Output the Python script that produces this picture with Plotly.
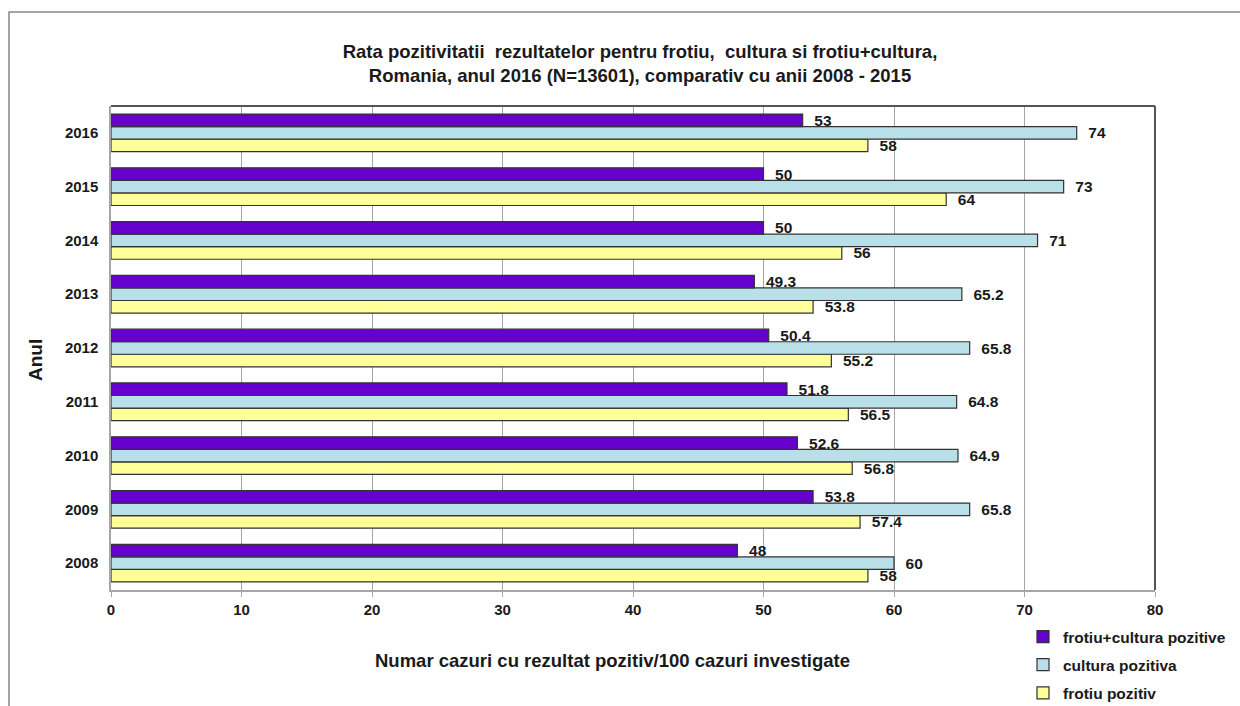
import plotly.graph_objects as go

years = ["2008", "2009", "2010", "2011", "2012", "2013", "2014", "2015", "2016"]
frotiu_cultura = [48, 53.8, 52.6, 51.8, 50.4, 49.3, 50, 50, 53]
cultura = [60, 65.8, 64.9, 64.8, 65.8, 65.2, 71, 73, 74]
frotiu = [58, 57.4, 56.8, 56.5, 55.2, 53.8, 56, 64, 58]

series = [
    ("frotiu pozitiv", frotiu, "#FFFF99", 3),
    ("cultura pozitiva", cultura, "#B9E0E9", 2),
    ("frotiu+cultura pozitive", frotiu_cultura, "#6600CC", 1),
]

FONT = "Liberation Sans, Arial, sans-serif"

fig = go.Figure()
for name, vals, col, rank in series:
    fig.add_trace(go.Bar(
        y=years, x=vals, name=name, orientation="h",
        marker=dict(color=col, line=dict(color="#333333", width=1.2)),
        text=[f"{v:g}" for v in vals],
        texttemplate="  %{text}",
        textposition="outside",
        constraintext="none",
        cliponaxis=False,
        textfont=dict(family=FONT, size=15.5, color="#1a1a1a", weight="bold"),
        legendgroup=name,
        legendrank=rank,
    ))

W, H = 1240, 706
L, R, T, B = 111, 1155, 106, 590


def px_x(x):
    return (x - L) / (R - L)


def px_y(y):
    return (B - y) / (B - T)


fig.update_layout(
    width=W, height=H,
    margin=dict(l=L, r=W - R, t=T, b=H - B, autoexpand=False),
    paper_bgcolor="white", plot_bgcolor="white",
    barmode="group", bargap=0.30, bargroupgap=0.0,
    font=dict(family=FONT, color="#1a1a1a"),
    title=dict(
        text="Rata pozitivitatii  rezultatelor pentru frotiu,  cultura si frotiu+cultura,<br>Romania, anul 2016 (N=13601), comparativ cu anii 2008 - 2015",
        x=640 / W, xanchor="center", y=1 - 58 / H, yanchor="middle",
        font=dict(family=FONT, size=18.5, color="#1a1a1a", weight="bold"),
    ),
    xaxis=dict(
        range=[0, 80], dtick=10, tick0=0,
        showgrid=True, gridcolor="#A6A6A6", gridwidth=1.2,
        zeroline=False,
        showline=True, linecolor="#A6A6A6", linewidth=1.5,
        ticks="outside", ticklen=5, tickcolor="#A6A6A6",
        tickfont=dict(family=FONT, size=15, color="#1a1a1a", weight="bold"),
    ),
    yaxis=dict(
        type="category", categoryorder="array", categoryarray=years,
        showline=True, linecolor="#A6A6A6", linewidth=1.5,
        ticks="", showgrid=False,
        tickfont=dict(family=FONT, size=15, color="#1a1a1a", weight="bold"),
        ticklabelstandoff=8,
    ),
    legend=dict(
        xref="container", yref="container",
        x=1023 / W, xanchor="left", y=1 - 620 / H, yanchor="top",
        traceorder="grouped", tracegroupgap=5,
        font=dict(family=FONT, size=15.5, color="#1a1a1a", weight="bold"),
        bgcolor="rgba(0,0,0,0)", itemwidth=30,
    ),
    showlegend=True,
)

# axis titles
fig.add_annotation(
    text="Numar cazuri cu rezultat pozitiv/100 cazuri investigate",
    xref="paper", yref="paper", x=px_x(612), y=px_y(660),
    xanchor="center", yanchor="middle", showarrow=False,
    font=dict(family=FONT, size=18.5, color="#1a1a1a", weight="bold"),
)
fig.add_annotation(
    text="Anul", textangle=-90,
    xref="paper", yref="paper", x=px_x(35), y=px_y(360),
    xanchor="center", yanchor="middle", showarrow=False,
    font=dict(family=FONT, size=19, color="#1a1a1a", weight="bold"),
)

# plot-area top and right borders (darker)
fig.add_shape(type="line", xref="paper", yref="paper", x0=0, x1=1, y0=1, y1=1,
              line=dict(color="#555555", width=2))
fig.add_shape(type="line", xref="paper", yref="paper", x0=1, x1=1, y0=0, y1=1,
              line=dict(color="#555555", width=2))

# outer chart frame
fig.add_shape(type="rect", xref="paper", yref="paper",
              x0=px_x(9), x1=px_x(1260), y0=px_y(720), y1=px_y(12),
              line=dict(color="#888888", width=1.5), fillcolor="rgba(0,0,0,0)", layer="below")

fig.write_html("out.html")
